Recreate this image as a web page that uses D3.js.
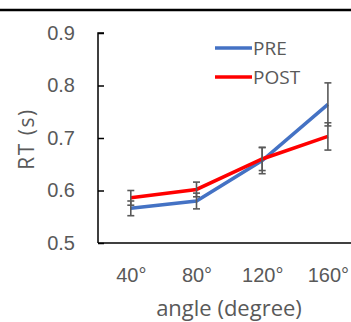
<!DOCTYPE html>
<html lang="en">
<head>
<meta charset="UTF-8">
<title>RT by angle</title>
<style>
  body { margin: 0; background: #fff; }
  svg { display: block; font-family: "Open Sans", "Noto Sans", sans-serif; }
  .tick text { fill: #595959; }
</style>
</head>
<body>
<script src="https://cdn.jsdelivr.net/npm/d3@7"></script>
<script>
var categories = ['40°', '80°', '120°', '160°'];
var preValues = [0.566, 0.580, 0.657, 0.764];
var preErrors = [0.014, 0.015, 0.025, 0.041];
var postValues = [0.586, 0.602, 0.660, 0.703];
var postErrors = [0.014, 0.014, 0.022, 0.026];
var yTicks = [0.5, 0.6, 0.7, 0.8, 0.9];

var W = 351, H = 322;
var svg = d3.select('body').append('svg')
  .attr('width', W)
  .attr('height', H);

// top rule
svg.append('line')
  .attr('x1', 0).attr('x2', W)
  .attr('y1', 10).attr('y2', 10)
  .attr('stroke', '#000').attr('stroke-width', 2.5);

var plotLeft = 98, plotTop = 33, plotBottom = 243;
var x = d3.scalePoint().domain(categories).range([plotLeft + 32.8, plotLeft + 32.8 + 3 * 65.7]);
var y = d3.scaleLinear().domain([0.5, 0.9]).range([plotBottom, plotTop]);

// y axis, ticks inward
var yAxis = svg.append('g')
  .attr('transform', 'translate(' + plotLeft + ',0)')
  .call(d3.axisRight(y).tickValues(yTicks).tickSize(6).tickFormat(d3.format('.1f')));
yAxis.select('.domain').attr('d', 'M6,' + plotTop + 'H0V' + plotBottom).attr('stroke', '#000').attr('stroke-width', 1.5);
yAxis.selectAll('.tick line').attr('stroke', '#000').attr('stroke-width', 1.5);
yAxis.selectAll('.tick text')
  .attr('x', -23).attr('text-anchor', 'end')
  .style('font-size', '20px');

// x axis line
svg.append('line')
  .attr('x1', plotLeft).attr('x2', W)
  .attr('y1', plotBottom).attr('y2', plotBottom)
  .attr('stroke', '#000').attr('stroke-width', 1.5);

var xAxis = svg.append('g')
  .attr('transform', 'translate(0,' + plotBottom + ')')
  .call(d3.axisBottom(x).tickSize(0).tickPadding(25));
xAxis.select('.domain').remove();
xAxis.selectAll('.tick text').style('font-size', '20px');

// axis titles
svg.append('text')
  .attr('x', 229).attr('y', 316)
  .attr('text-anchor', 'middle')
  .attr('fill', '#595959')
  .style('font-size', '22px')
  .text('angle (degree)');

svg.append('text')
  .attr('transform', 'translate(34,139) rotate(-90)')
  .attr('text-anchor', 'middle')
  .attr('fill', '#595959')
  .style('font-size', '21px')
  .style('letter-spacing', '1.5px')
  .text('RT (s)');

var series = [
  { name: 'PRE', values: preValues, errors: preErrors, color: '#4472C4' },
  { name: 'POST', values: postValues, errors: postErrors, color: '#FF0000' }
];

var line = d3.line()
  .x(function (d, i) { return x(categories[i]); })
  .y(function (d) { return y(d); });

series.forEach(function (s) {
  svg.append('path')
    .datum(s.values)
    .attr('fill', 'none')
    .attr('stroke', s.color)
    .attr('stroke-width', 3.5)
    .attr('d', line);
});

// error bars
series.forEach(function (s) {
  var g = svg.append('g').attr('stroke', '#595959').attr('stroke-width', 1.6);
  s.values.forEach(function (v, i) {
    var cx = x(categories[i]);
    var y0 = y(v - s.errors[i]), y1 = y(v + s.errors[i]);
    g.append('line').attr('x1', cx).attr('x2', cx).attr('y1', y0).attr('y2', y1);
    g.append('line').attr('x1', cx - 3.5).attr('x2', cx + 3.5).attr('y1', y0).attr('y2', y0);
    g.append('line').attr('x1', cx - 3.5).attr('x2', cx + 3.5).attr('y1', y1).attr('y2', y1);
  });
});

// legend
var legend = svg.append('g');
series.forEach(function (s, i) {
  var ly = 48 + i * 29;
  legend.append('line')
    .attr('x1', 215).attr('x2', 252)
    .attr('y1', ly).attr('y2', ly)
    .attr('stroke', s.color).attr('stroke-width', 3.5);
  legend.append('text')
    .attr('x', 253).attr('y', ly + 7)
    .attr('fill', '#595959')
    .style('font-size', '19px')
    .text(s.name);
});
</script>
</body>
</html>
